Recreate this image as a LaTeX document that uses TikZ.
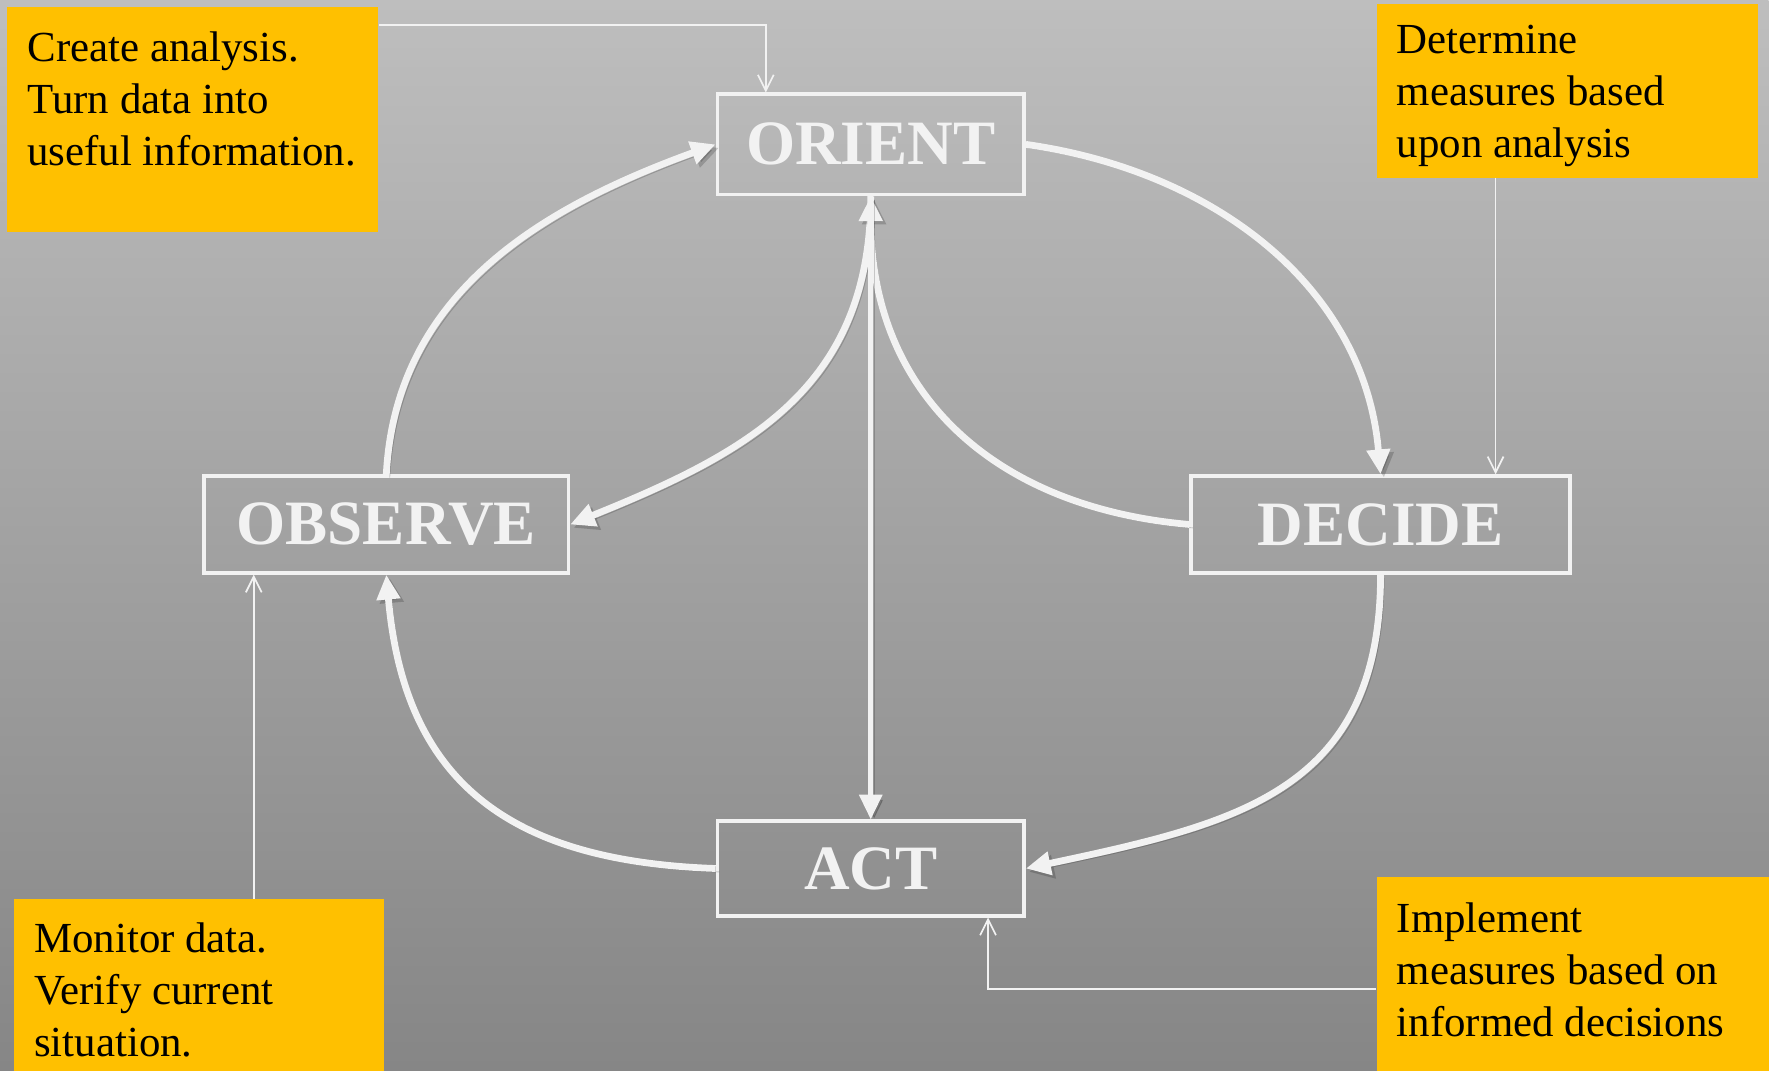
\documentclass[tikz,border=0pt]{standalone}
\usepackage{fontspec}
\setmainfont{Liberation Serif}
\usetikzlibrary{arrows.meta}
\definecolor{oodayellow}{RGB}{255,192,0}
\definecolor{oodatop}{RGB}{190,190,190}
\definecolor{oodabottom}{RGB}{134,134,134}
\definecolor{oodawhite}{RGB}{242,242,242}

\begin{document}
\begin{tikzpicture}[x=0.5pt,y=-0.5pt,
  stage/.style={draw=oodawhite,line width=1.5pt,text=oodawhite,inner sep=0pt,font=\fontsize{28}{30}\selectfont\bfseries},
  note/.style={fill=oodayellow,anchor=north west,inner sep=0pt},
  notetext/.style={anchor=north west,inner sep=0pt,align=left,font=\fontsize{19}{23}\selectfont},
  flow/.style={draw=oodawhite,line width=3pt,-{Triangle[length=11pt,width=10pt]},
    preaction={draw=black,opacity=0.18,transform canvas={shift={(1.5pt,-1.5pt)}}}},
  link/.style={draw=oodawhite,line width=0.75pt,-{Straight Barb[length=7pt,width=7pt]}}]
\shade[top color=oodatop,bottom color=oodabottom] (0,0) rectangle (1568,949);
\node[note,minimum width=164.5pt,minimum height=99.5pt] (create) at (6,6) {};
\node[note,minimum width=169pt,minimum height=77pt] (determine) at (1220,3) {};
\node[note,minimum width=164pt,minimum height=76pt] (monitor) at (12,797) {};
\node[note,minimum width=174pt,minimum height=86pt] (implement) at (1220,777) {};
\node[notetext] (createtext) at (24,28) {Create analysis.\\Turn data into\\useful information.};
\node[notetext] (determinetext) at (1238,22) {Determine\\measures based\\upon analysis};
\node[notetext] (monitortext) at (30,818) {Monitor data.\\Verify current\\situation.};
\node[notetext] (implementtext) at (1238,800) {Implement\\measures based on\\informed decisions};
\node[stage,minimum width=136pt,minimum height=44.5pt] (orient) at (772,128) {ORIENT};
\node[stage,minimum width=161.5pt,minimum height=43pt] (observe) at (342.5,465) {OBSERVE};
\node[stage,minimum width=168pt,minimum height=43pt] (decide) at (1224,465) {DECIDE};
\node[stage,minimum width=136pt,minimum height=42pt] (act) at (772,770) {ACT};
\draw[flow] (observe.north) to[out=87,in=200] (orient.west);
\draw[flow] (orient.east) to[out=-8,in=95] (decide.north);
\draw[flow] (decide.south) to[out=-90,in=12,looseness=1.2] (act.east);
\draw[flow] (act.west) to[out=178,in=-85,looseness=1.2] (observe.south);
\draw[flow] (orient.south) to[out=-90,in=22,looseness=1.1] (observe.east);
\draw[flow] (decide.west) to[out=175,in=-90,looseness=1.1] (orient.south);
\draw[flow,line width=2pt] (orient.south) -- (act.north);
\draw[link] ([yshift=-8pt]create.north east) -| ([xshift=-46.5pt]orient.north);
\draw[link] ([xshift=53pt]determine.south west) -- ([xshift=51pt]decide.north);
\draw[link] ([xshift=106.5pt]monitor.north west) -- ([xshift=-58.75pt]observe.south);
\draw[link] ([yshift=-50pt]implement.north west) -| ([xshift=52pt]act.south);
\end{tikzpicture}
\end{document}
